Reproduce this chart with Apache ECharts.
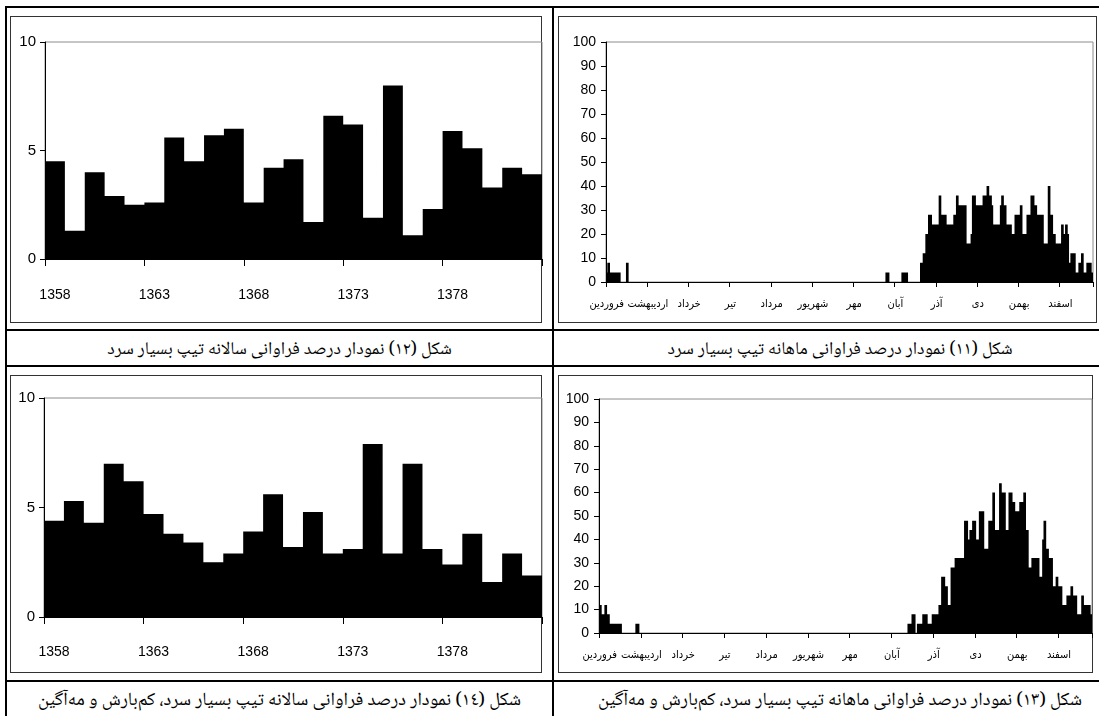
<!DOCTYPE html>
<html lang="fa">
<head>
<meta charset="utf-8">
<script src="https://cdn.jsdelivr.net/npm/echarts@6/dist/echarts.min.js"></script>
<style>
  html, body { margin: 0; padding: 0; background: #fff; }
  #page { position: relative; width: 1099px; height: 716px; overflow: hidden; background: #fff; }
  .line { position: absolute; background: #000; }
  .frame { position: absolute; box-sizing: border-box; border: 1px solid #333; }
  .cap { position: absolute; direction: rtl; text-align: center; white-space: nowrap;
         font-family: 'Noto Naskh Arabic', 'Noto Sans Arabic', 'DejaVu Sans', sans-serif;
         font-size: 18px; color: #000; line-height: 24px; }
  .cap.wide { font-size: 18.7px; }
  #chart { position: absolute; left: 0; top: 0; width: 1099px; height: 716px; }
</style>
</head>
<body>
<div id="page">
  <!-- table rules -->
  <div class="line" style="left:5px;top:6px;width:1094px;height:2px"></div>
  <div class="line" style="left:5px;top:6px;width:2px;height:710px"></div>
  <div class="line" style="left:552px;top:6px;width:2px;height:710px"></div>
  <div class="line" style="left:5px;top:329px;width:1094px;height:2px"></div>
  <div class="line" style="left:5px;top:365px;width:1094px;height:2px"></div>
  <div class="line" style="left:5px;top:680px;width:1094px;height:2px"></div>

  <!-- chart frames -->
  <div class="frame" style="left:10px;top:16px;width:532px;height:307px"></div>
  <div class="frame" style="left:558px;top:16px;width:539px;height:307px"></div>
  <div class="frame" style="left:10px;top:375px;width:532px;height:298px"></div>
  <div class="frame" style="left:558px;top:375px;width:535px;height:298px"></div>

  <!-- captions -->
  <div class="cap" style="left:7px;width:545px;top:338px">شكل (١٢) نمودار درصد فراوانی سالانه تیپ بسیار سرد</div>
  <div class="cap" style="left:560px;width:560px;top:338px">شكل (١١) نمودار درصد فراوانی ماهانه تیپ بسیار سرد</div>
  <div class="cap wide" style="left:7px;width:545px;top:689px">شكل (١٤) نمودار درصد فراوانی سالانه تیپ بسیار سرد، كم‌بارش و مه‌آگین</div>
  <div class="cap wide" style="left:560px;width:560px;top:689px">شكل (١٣) نمودار درصد فراوانی ماهانه تیپ بسیار سرد، كم‌بارش و مه‌آگین</div>

  <div id="chart"></div>
</div>

<script>
// Years on the annual charts
const years = ['1358','1359','1360','1361','1362','1363','1364','1365','1366','1367','1368','1369','1370',
               '1371','1372','1373','1374','1375','1376','1377','1378','1379','1380','1381','1382'];

// Annual frequency (%) of the very-cold type
const veryColdYearly = [4.5,1.3,4.0,2.9,2.5,2.6,5.6,4.5,5.7,6.0,2.6,4.2,4.6,1.7,6.6,6.2,1.9,8.0,1.1,2.3,5.9,5.1,3.3,4.2,3.9];

// Annual frequency (%) of the very-cold, low-rain and foggy type
const coldFoggyYearly = [4.4,5.3,4.3,7.0,6.2,4.7,3.8,3.4,2.5,2.9,3.9,5.6,3.2,4.8,2.9,3.1,7.9,2.9,7.0,3.1,2.4,3.8,1.6,2.9,1.9];

// Month names on the daily charts (one label every 31 days)
const monthNames = ['فروردین','اردیبهشت','خرداد','تیر','مرداد','شهریور','مهر','آبان','آذر','دی','بهمن','اسفند'];

// Daily frequency (%) of the very-cold type, 366 days, one row per 31 days
const veryColdDaily = [
  4,8,8,4,4,4,4,4,4,4,4,0,0,0,0,8,8,0,0,0,0,0,0,0,0,0,0,0,0,0,0,
  0,0,0,0,0,0,0,0,0,0,0,0,0,0,0,0,0,0,0,0,0,0,0,0,0,0,0,0,0,0,0,
  0,0,0,0,0,0,0,0,0,0,0,0,0,0,0,0,0,0,0,0,0,0,0,0,0,0,0,0,0,0,0,
  0,0,0,0,0,0,0,0,0,0,0,0,0,0,0,0,0,0,0,0,0,0,0,0,0,0,0,0,0,0,0,
  0,0,0,0,0,0,0,0,0,0,0,0,0,0,0,0,0,0,0,0,0,0,0,0,0,0,0,0,0,0,0,
  0,0,0,0,0,0,0,0,0,0,0,0,0,0,0,0,0,0,0,0,0,0,0,0,0,0,0,0,0,0,0,
  0,0,0,0,0,0,0,0,0,0,0,0,0,0,0,0,0,0,0,0,0,0,0,0,4,4,4,0,0,0,0,
  0,0,0,0,0,4,4,4,4,4,0,0,0,0,0,0,0,0,0,8,8,12,12,20,20,28,28,28,24,24,24,
  24,24,36,36,28,28,28,28,24,24,24,24,24,28,28,36,36,32,32,32,32,32,32,16,16,16,20,36,36,36,32,
  32,32,32,32,36,36,36,40,40,36,36,32,24,24,24,24,24,32,36,36,32,32,24,24,24,24,20,20,28,28,28,
  28,32,32,20,20,20,28,28,28,36,36,36,32,32,28,28,28,28,28,16,16,16,40,40,28,28,20,20,16,16,16,
  16,24,24,20,24,24,20,8,12,12,12,12,4,4,8,8,12,12,4,4,8,8,8,8,4
];

// Daily frequency (%) of the very-cold, low-rain and foggy type, 366 days
const coldFoggyDaily = [
  12,12,8,8,12,12,8,8,4,4,4,4,4,4,4,4,4,0,0,0,0,0,0,0,0,0,0,4,4,4,0,
  0,0,0,0,0,0,0,0,0,0,0,0,0,0,0,0,0,0,0,0,0,0,0,0,0,0,0,0,0,0,0,
  0,0,0,0,0,0,0,0,0,0,0,0,0,0,0,0,0,0,0,0,0,0,0,0,0,0,0,0,0,0,0,
  0,0,0,0,0,0,0,0,0,0,0,0,0,0,0,0,0,0,0,0,0,0,0,0,0,0,0,0,0,0,0,
  0,0,0,0,0,0,0,0,0,0,0,0,0,0,0,0,0,0,0,0,0,0,0,0,0,0,0,0,0,0,0,
  0,0,0,0,0,0,0,0,0,0,0,0,0,0,0,0,0,0,0,0,0,0,0,0,0,0,0,0,0,0,0,
  0,0,0,0,0,0,0,0,0,0,0,0,0,0,0,0,0,0,0,0,0,0,0,0,0,0,0,0,0,0,0,
  0,0,0,0,0,0,0,0,0,0,0,0,4,4,4,8,8,8,0,4,4,4,4,8,8,8,8,4,4,4,8,
  8,8,8,8,12,12,24,24,24,20,20,12,12,28,28,28,32,32,32,32,32,32,32,48,48,48,40,44,44,48,48,
  48,40,40,52,52,52,52,36,36,36,48,48,48,60,60,44,44,44,64,64,60,60,60,44,44,60,60,60,56,56,52,
  52,52,56,56,56,60,60,44,44,28,28,32,32,32,32,32,32,24,24,40,48,48,36,36,32,32,32,20,20,24,24,
  20,20,20,12,12,12,16,16,16,20,20,16,16,16,8,8,8,16,16,12,12,12,12,12,8
];

// Day index categories for the daily charts
const dayIndex = veryColdDaily.map((_, i) => String(i + 1));

const numFont = "'Liberation Sans', Arial, sans-serif";
const faFont = "'DejaVu Sans Condensed', 'DejaVu Sans', sans-serif";
const black = '#000';

function yearAxis(gridIndex, margin) {
  return {
    type: 'category', gridIndex, data: years, boundaryGap: true,
    axisLine: { show: true, lineStyle: { color: black, width: 1 } },
    axisTick: { show: true, interval: 4, length: 7, lineStyle: { color: black } },
    axisLabel: { interval: 4, margin, color: black, fontFamily: numFont, fontSize: 14 },
    splitLine: { show: false }
  };
}
function dayAxis(gridIndex, margin) {
  return {
    type: 'category', gridIndex, data: dayIndex, boundaryGap: true,
    axisLine: { show: true, lineStyle: { color: black, width: 1 } },
    axisTick: { show: true, interval: 30, length: 5, lineStyle: { color: black } },
    axisLabel: {
      interval: 30, margin, color: black, fontFamily: faFont, fontSize: 11,
      formatter: (v, i) => monthNames[Math.floor(i / 31)] || ''
    },
    splitLine: { show: false }
  };
}
function valueAxis(gridIndex, max, interval, fontSize, margin) {
  return {
    type: 'value', gridIndex, min: 0, max, interval,
    axisLine: { show: true, lineStyle: { color: black, width: 1 } },
    axisTick: { show: true, length: 5, lineStyle: { color: black } },
    axisLabel: { margin, color: black, fontFamily: numFont, fontSize },
    splitLine: { show: false }
  };
}
function bars(idx, data) {
  return {
    type: 'bar', xAxisIndex: idx, yAxisIndex: idx, data,
    barCategoryGap: '0%', barGap: '0%',
    large: true, largeThreshold: 5,
    itemStyle: { color: black },
    silent: true, animation: false
  };
}

const gridStyle = { show: true, borderColor: '#8c8c8c', borderWidth: 1, backgroundColor: 'transparent' };

const chart = echarts.init(document.getElementById('chart'), null, { renderer: 'canvas' });
chart.setOption({
  backgroundColor: 'transparent',
  animation: false,
  grid: [
    Object.assign({ left: 45, top: 42, width: 497, height: 217 }, gridStyle),
    Object.assign({ left: 606, top: 42, width: 487, height: 240 }, gridStyle),
    Object.assign({ left: 44, top: 398, width: 498, height: 219 }, gridStyle),
    Object.assign({ left: 599, top: 399, width: 493, height: 234 }, gridStyle)
  ],
  xAxis: [ yearAxis(0, 29), dayAxis(1, 17), yearAxis(2, 28), dayAxis(3, 17) ],
  yAxis: [
    valueAxis(0, 10, 5, 15, 9),
    valueAxis(1, 100, 10, 14, 10),
    valueAxis(2, 10, 5, 15, 9),
    valueAxis(3, 100, 10, 14, 10)
  ],
  series: [
    bars(0, veryColdYearly),
    bars(1, veryColdDaily),
    bars(2, coldFoggyYearly),
    bars(3, coldFoggyDaily)
  ]
});
</script>
</body>
</html>
